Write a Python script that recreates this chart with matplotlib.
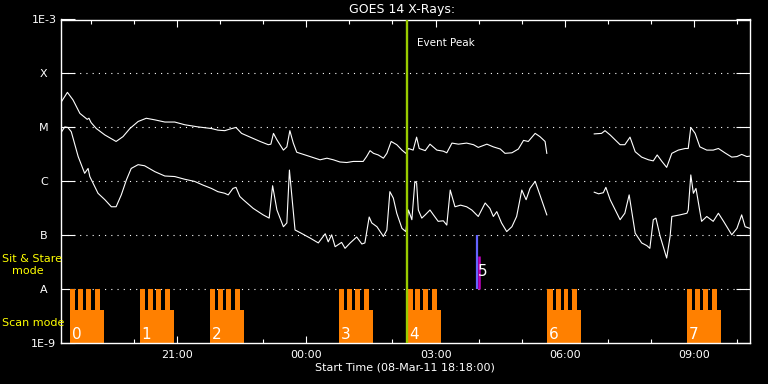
import numpy as np
import matplotlib
matplotlib.use('Agg')
import matplotlib.pyplot as plt
from matplotlib.ticker import FixedLocator

# ---- data: time in hours after 08-Mar-11 18:18:00, values are log10(flux W/m^2)
long_t_a = [0.00,0.16,0.29,0.45,0.62,0.66,0.71,0.83,1.03,1.29,1.45,1.61,1.80,1.99,2.19,2.42,2.65,2.88,
            3.19,3.50,3.65,3.81,3.93,4.07,4.20,4.40,4.63,4.82,4.88,4.94,5.02,5.17,5.25,5.32,5.40,5.48,
            5.79,6.02,6.18,6.33,6.48,6.64,6.79,7.02,7.10,7.18,7.26,7.37,7.49,7.57,7.67,7.80,7.92,8.01,
            8.07,8.18,8.26,8.32,8.46,8.57,8.73,8.88,8.96,9.08,9.23,9.42,9.58,9.69,9.89,10.04,10.20,
            10.31,10.47,10.62,10.74,10.85,11.01,11.12,11.24,11.28]
long_a = [-4.55,-4.35,-4.49,-4.74,-4.85,-4.83,-4.91,-5.02,-5.14,-5.26,-5.17,-5.02,-4.89,-4.83,-4.86,-4.90,
          -4.90,-4.95,-4.99,-5.02,-5.05,-5.06,-5.03,-5.00,-5.11,-5.18,-5.26,-5.32,-5.31,-5.11,-5.23,-5.42,
          -5.36,-5.06,-5.29,-5.46,-5.54,-5.60,-5.57,-5.60,-5.64,-5.65,-5.63,-5.63,-5.54,-5.43,-5.48,-5.51,
          -5.57,-5.48,-5.26,-5.32,-5.42,-5.48,-5.39,-5.42,-5.18,-5.39,-5.43,-5.31,-5.42,-5.44,-5.47,-5.29,
          -5.31,-5.29,-5.32,-5.37,-5.31,-5.36,-5.40,-5.48,-5.47,-5.40,-5.24,-5.26,-5.11,-5.17,-5.26,-5.48]
long_t_b = [12.38,12.55,12.63,12.75,12.98,13.09,13.21,13.33,13.48,13.64,13.75,13.84,13.95,14.06,14.18,
            14.33,14.49,14.56,14.62,14.72,14.83,14.99,15.14,15.26,15.41,15.57,15.69,15.80,15.92,16.00]
long_b = [-5.12,-5.11,-5.06,-5.14,-5.32,-5.32,-5.18,-5.45,-5.55,-5.60,-5.62,-5.51,-5.63,-5.74,-5.48,
          -5.42,-5.39,-5.39,-5.00,-5.11,-5.36,-5.42,-5.42,-5.39,-5.47,-5.55,-5.54,-5.50,-5.54,-5.53]

short_t_a = [0.00,0.10,0.17,0.25,0.41,0.56,0.64,0.68,0.87,1.03,1.18,1.29,1.41,1.53,1.64,1.80,1.95,2.19,
             2.42,2.65,2.88,3.11,3.31,3.50,3.65,3.81,3.89,4.00,4.07,4.16,4.24,4.47,4.70,4.84,4.92,5.02,
             5.17,5.25,5.31,5.36,5.44,5.56,5.79,5.98,6.14,6.21,6.29,6.37,6.52,6.60,6.72,6.87,6.99,7.06,
             7.16,7.22,7.34,7.49,7.57,7.64,7.72,7.80,7.92,8.01,8.07,8.15,8.22,8.26,8.30,8.38,8.46,8.57,
             8.65,8.76,8.88,8.96,9.04,9.15,9.28,9.42,9.54,9.69,9.85,9.96,10.04,10.12,10.23,10.35,10.47,
             10.58,10.70,10.80,10.89,11.01,11.12,11.28]
short_a = [-5.11,-4.99,-5.00,-5.08,-5.54,-5.85,-5.76,-5.91,-6.22,-6.34,-6.47,-6.47,-6.25,-5.97,-5.76,-5.69,
           -5.71,-5.82,-5.90,-5.91,-5.96,-6.00,-6.07,-6.13,-6.19,-6.22,-6.25,-6.13,-6.11,-6.28,-6.34,-6.50,
           -6.62,-6.68,-6.08,-6.53,-6.84,-6.77,-5.79,-6.22,-6.90,-6.95,-7.05,-7.14,-6.97,-7.12,-6.99,-7.21,
           -7.13,-7.24,-7.14,-7.03,-7.16,-7.14,-6.66,-6.77,-6.84,-7.02,-6.90,-6.19,-6.31,-6.59,-6.87,-6.93,
           -6.53,-6.71,-6.00,-6.03,-6.53,-6.68,-6.62,-6.53,-6.62,-6.74,-6.73,-6.81,-6.16,-6.47,-6.44,-6.47,
           -6.53,-6.65,-6.40,-6.50,-6.65,-6.56,-6.77,-6.93,-6.84,-6.65,-6.16,-6.34,-6.13,-6.00,-6.25,-6.62]
short_t_b = [12.38,12.48,12.59,12.65,12.75,12.98,13.09,13.19,13.33,13.48,13.60,13.67,13.75,13.81,13.91,
             14.06,14.14,14.18,14.37,14.53,14.56,14.62,14.68,14.74,14.87,14.99,15.14,15.26,15.38,15.57,
             15.69,15.80,15.88,15.99]
short_b = [-6.20,-6.23,-6.21,-6.11,-6.34,-6.71,-6.59,-6.25,-6.96,-7.14,-7.19,-7.24,-6.71,-6.68,-7.02,
           -7.42,-7.02,-6.65,-6.62,-6.59,-6.53,-5.88,-6.22,-6.13,-6.74,-6.65,-6.74,-6.59,-6.74,-6.99,
           -6.87,-6.62,-6.84,-6.87]

event_peak = 8.03
x_major = [2.7, 5.7, 8.7, 11.7, 14.7]
x_major_labels = ['21:00', '00:00', '03:00', '06:00', '09:00']
x_minor = [0.7 + k for k in range(16)]
y_ticks = [1e-3, 1e-4, 1e-5, 1e-6, 1e-7, 1e-8, 1e-9]
y_labels = ['1E-3', 'X', 'M', 'C', 'B', 'A', '1E-9']
grid_levels = [1e-4, 1e-5, 1e-6, 1e-7, 1e-8]

scan_start = [0.22, 1.84, 3.47, 6.46, 8.04, 11.29, 14.53]
scan_ids = ['0', '1', '2', '3', '4', '6', '7']
scan_width = 0.79
scan_low_top = 4.2e-9
finger_offsets = [0.0, 0.193, 0.378, 0.573]
finger_widths = [0.125, 0.115, 0.112, 0.125]
finger_top = 1e-8

ss_time = 9.655
ss_range = (1e-8, 1e-7)
ss_mag_time = 9.70
ss_mag_range = (1e-8, 4.2e-8)
ss_id = '5'

# ---- figure
W, H = 768, 384
fig = plt.figure(figsize=(W / 100, H / 100), dpi=100, facecolor='black')
ax = fig.add_axes([60.5 / W, (H - 343.3) / H, 689.8 / W, 323.8 / H])
ax.set_facecolor('black')
ax.set_yscale('log')
ax.set_xlim(0, 16)
ax.set_ylim(1e-9, 1e-3)

for lev in grid_levels:
    ax.axhline(lev, color='white', lw=0.8, linestyle=(0, (1, 4.6)), zorder=1)

orange = '#ff8000'
for s, lab in zip(scan_start, scan_ids):
    ax.bar(s, scan_low_top - 1e-9, width=scan_width, bottom=1e-9, align='edge',
           color=orange, linewidth=0, zorder=2)
    for off, w in zip(finger_offsets, finger_widths):
        ax.bar(s + off, finger_top - 1e-9, width=w, bottom=1e-9, align='edge',
               color=orange, linewidth=0, zorder=2)
    ax.text(s + 0.04, 1.22e-9, lab, color='white', fontsize=11, ha='left', va='baseline', zorder=5)

ax.vlines(ss_time, *ss_range, color='#6464ff', lw=1.6, zorder=3)
ax.vlines(ss_mag_time, *ss_mag_range, color='#c000c0', lw=1.8, zorder=3)
ax.text(ss_mag_time - 0.03, 2.1e-8, ss_id, color='white', fontsize=11, ha='left', va='center', zorder=5)

for t, v in [(long_t_a, long_a), (long_t_b, long_b), (short_t_a, short_a), (short_t_b, short_b)]:
    ax.plot(t, 10.0 ** np.array(v), color='white', lw=0.8, zorder=4)

ax.axvline(event_peak, color='#99cc00', lw=1.7, zorder=6)
ax.text(event_peak + 0.25, 3.7e-4, 'Event Peak', color='white', fontsize=7.5, ha='left', va='center')

for sp in ax.spines.values():
    sp.set_color('white')
    sp.set_linewidth(1.0)

ax.xaxis.set_major_locator(FixedLocator(x_major))
ax.xaxis.set_minor_locator(FixedLocator(x_minor))
ax.set_xticks(x_major)
ax.set_xticklabels(x_major_labels)
ax.set_yticks(y_ticks)
ax.set_yticklabels(y_labels)
ax.yaxis.set_minor_locator(FixedLocator([]))
ax.tick_params(axis='x', which='major', direction='in', length=4.8, width=0.8, colors='white',
               top=True, bottom=True, labelsize=8, pad=5)
ax.tick_params(axis='x', which='minor', direction='in', length=2.8, width=0.8, colors='white',
               top=True, bottom=True)
ax.tick_params(axis='y', which='major', direction='in', length=10, width=0.8, colors='white',
               left=True, right=True, labelsize=8, pad=12)
for lbl in ax.get_yticklabels():
    lbl.set_horizontalalignment('center')

fig.text(402 / W, 1 - 9 / H, 'GOES 14 X-Rays:', color='white', fontsize=9, ha='center', va='center')
fig.text(405 / W, 1 - 368 / H, 'Start Time (08-Mar-11 18:18:00)', color='white', fontsize=8,
         ha='center', va='center')
fig.text(2 / W, 1 - 259 / H, 'Sit & Stare', color='yellow', fontsize=8, ha='left', va='center')
fig.text(12 / W, 1 - 271.5 / H, 'mode', color='yellow', fontsize=8, ha='left', va='center')
fig.text(2 / W, 1 - 323 / H, 'Scan mode', color='yellow', fontsize=8, ha='left', va='center')

fig.savefig('out.png', dpi=100, facecolor='black')
